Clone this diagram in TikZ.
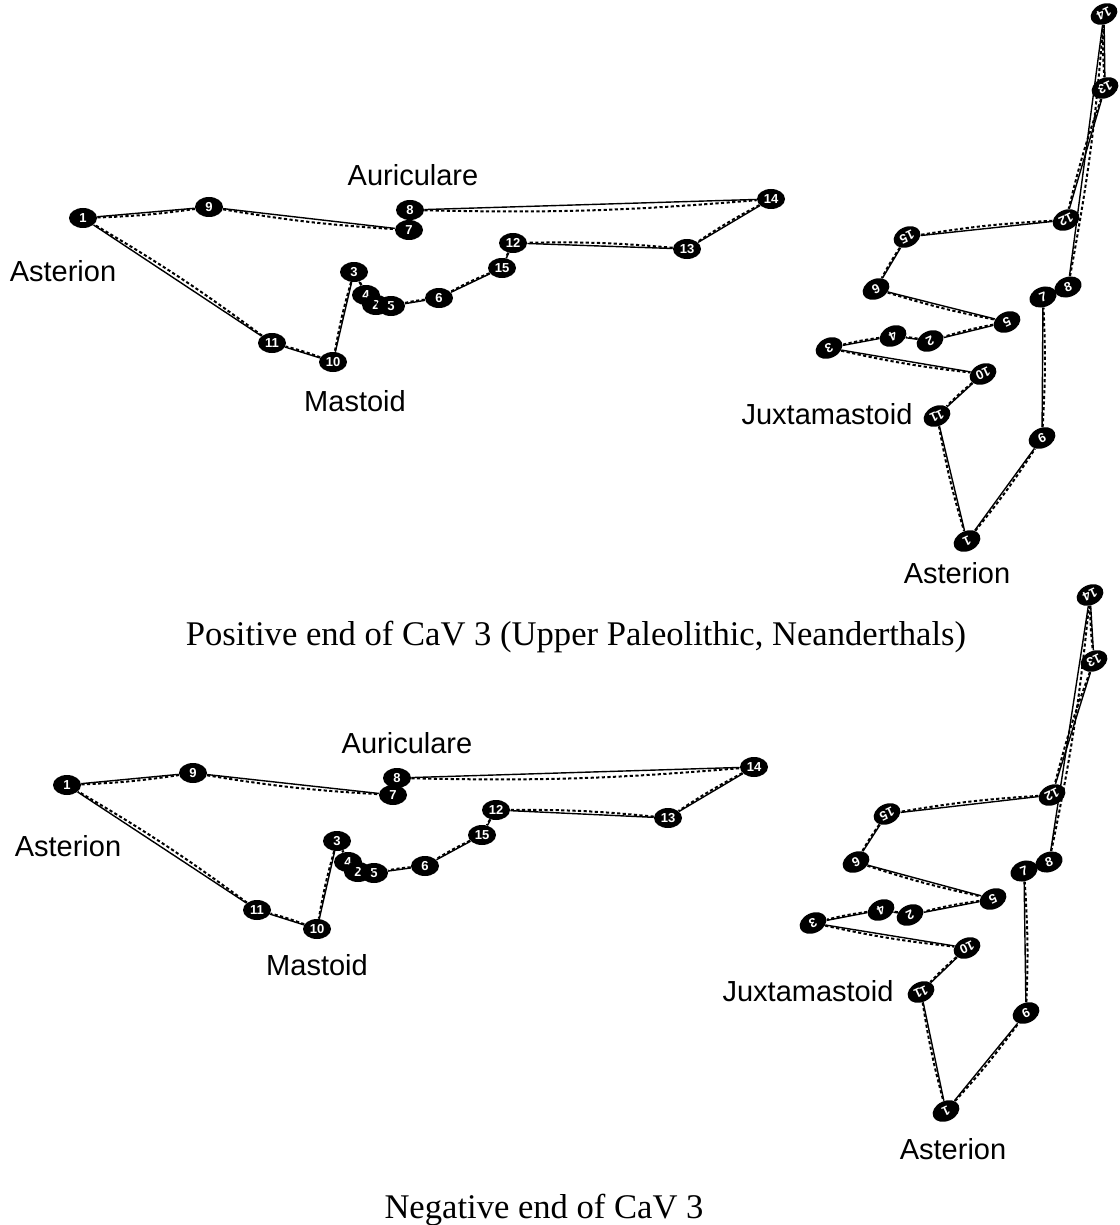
\documentclass[tikz,border=0pt]{standalone}
\usepackage{fontspec}
\setmainfont{Liberation Serif}
\setsansfont{Liberation Sans}
\usetikzlibrary{shapes.geometric}

\tikzset{
  pt/.style={ellipse, fill=black, text=white, font=\sffamily\bfseries\fontsize{6.5}{6.5}\selectfont,
    minimum width=14pt, minimum height=10pt, inner sep=0pt},
  rpt/.style={pt, rotate=205},
  mline/.style={black, line width=0.7pt},
  eline/.style={black, line width=1pt, dash pattern=on 1.6pt off 1.2pt},
  lbl/.style={font=\sffamily\fontsize{14.5}{16}\selectfont},
  captxt/.style={font=\fontsize{17.3}{19}\selectfont}
}

\begin{document}
\begin{tikzpicture}[x=0.5pt,y=-0.5pt]
\useasboundingbox (0,0) rectangle (1119,1225);

% positive end, side view
\foreach \n/\x/\y in {1/83/218, 9/209/207, 7/409/230, 8/410/210, 14/771/199, 13/687/249,
  12/513/243, 15/502/268, 6/439/298, 3/354/272, 4/366/295, 2/376/305, 5/391/306,
  10/333/362, 11/272/343}
  \node[pt] (tl\n) at (\x,\y) {\n};
% positive end, back view
\foreach \n/\x/\y in {14/1104/14, 13/1105/88, 12/1066/220, 15/907/237, 6/876/289,
  5/1007/322, 4/893/336, 2/930/341, 3/829/348, 10/983/374, 11/937/416, 9/1042/438, 1/967/541}
  \node[rpt] (tr\n) at (\x,\y) {\n};
\node[pt, rotate=20] (tr7) at (1043,297) {7};
\node[pt, rotate=20] (tr8) at (1068,287) {8};

% negative end, side view
\foreach \n/\x/\y in {1/67/785, 9/193/773, 7/393/795, 8/397/778, 14/754/767, 13/668/818,
  12/496/810, 15/482/835, 6/425/866, 3/337/841, 4/348/862, 2/358/872, 5/374/873,
  10/317/929, 11/257/910}
  \node[pt] (bl\n) at (\x,\y) {\n};
% negative end, back view
\foreach \n/\x/\y in {14/1090/595, 13/1094/661, 12/1052/795, 15/887/814, 6/856/862,
  5/993/899, 4/881/910, 2/910/915, 3/813/923, 10/967/948, 11/921/992, 9/1026/1013, 1/946/1111}
  \node[rpt] (br\n) at (\x,\y) {\n};
\node[pt, rotate=20] (br7) at (1024,871) {7};
\node[pt, rotate=20] (br8) at (1049,862) {8};

% outlines, mean and extreme shape
\foreach \s in {tl,tr,bl,br}
  \foreach \a/\b in {1/9, 9/7, 8/14, 14/13, 13/12, 12/15, 15/6, 6/5, 5/2, 2/4, 4/3, 3/10, 10/11, 11/1}
  {
    \draw[mline] (\s\a) -- (\s\b);
    \draw[eline] (\s\a) to[bend right=3] (\s\b);
  }

\node[lbl] (aur1) at (413,175) {Auriculare};
\node[lbl] (ast1) at (63,271) {Asterion};
\node[lbl] (mas1) at (355,401) {Mastoid};
\node[lbl] (jux1) at (827,414) {Juxtamastoid};
\node[lbl] (ast2) at (957,573) {Asterion};

\node[lbl] (aur2) at (407,743) {Auriculare};
\node[lbl] (ast3) at (68,846) {Asterion};
\node[lbl] (mas2) at (317,965) {Mastoid};
\node[lbl] (jux2) at (808,991) {Juxtamastoid};
\node[lbl] (ast4) at (953,1149) {Asterion};

\node[captxt] (pos) at (576,637) {Positive end of CaV 3 (Upper Paleolithic, Neanderthals)};
\node[captxt] (neg) at (544,1210) {Negative end of CaV 3};
\end{tikzpicture}
\end{document}
